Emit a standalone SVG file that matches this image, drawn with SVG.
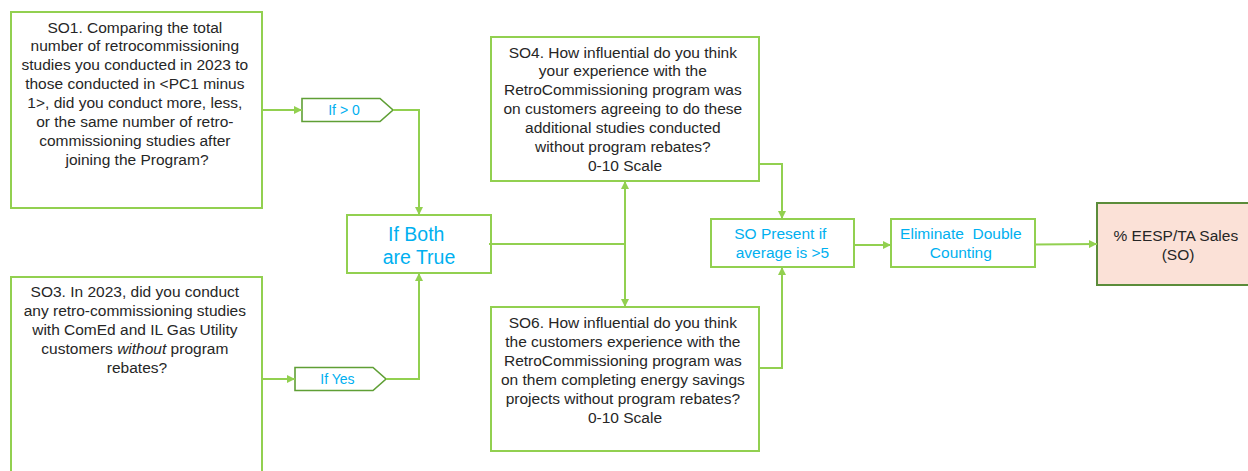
<svg xmlns="http://www.w3.org/2000/svg" width="1248" height="471" viewBox="0 0 1248 471">
<defs>
<marker id="ah" viewBox="0 0 10 10" refX="10" refY="5" markerWidth="9" markerHeight="8" markerUnits="userSpaceOnUse" orient="auto">
<path d="M0,0 L10,5 L0,10 Z" fill="#92D050"/>
</marker>
</defs>
<style>
.box{fill:#FFFFFF;stroke:#92D050;stroke-width:2}
.tag{fill:#FFFFFF;stroke:#5F9F35;stroke-width:1.6}
.res{fill:#FBE1D7;stroke:#5B8C3A;stroke-width:2}
.q{font-family:"Liberation Sans",Arial,sans-serif;font-size:15.5px;fill:#262626;text-anchor:middle}
.c{font-family:"Liberation Sans",Arial,sans-serif;fill:#00B0F0;text-anchor:middle}
.ln{fill:none;stroke:#92D050;stroke-width:2}
</style>
<rect width="1248" height="471" fill="#FFFFFF"/>

<g id="so1">
<rect class="box" x="11" y="12" width="251" height="196"/>
<text class="q">
<tspan x="137" y="32.5">SO1. Comparing the total</tspan>
<tspan x="137" y="51.4">number of retrocommissioning</tspan>
<tspan x="137" y="70.3">studies you conducted in 2023 to</tspan>
<tspan x="137" y="89.2">those conducted in &lt;PC1 minus</tspan>
<tspan x="137" y="108.1">1&gt;, did you conduct more, less,</tspan>
<tspan x="137" y="127">or the same number of retro-</tspan>
<tspan x="137" y="145.9">commissioning studies after</tspan>
<tspan x="137" y="164.8">joining the Program?</tspan>
</text>
</g>

<g id="so3">
<rect class="box" x="11" y="277" width="251" height="200"/>
<text class="q">
<tspan x="137" y="296.5">SO3. In 2023, did you conduct</tspan>
<tspan x="137" y="315.5">any retro-commissioning studies</tspan>
<tspan x="137" y="334.5">with ComEd and IL Gas Utility</tspan>
<tspan x="137" y="353.5">customers <tspan font-style="italic">without</tspan> program</tspan>
<tspan x="137" y="372.5">rebates?</tspan>
</text>
</g>

<g id="ifgt0">
<polygon class="tag" points="302,98.5 380,98.5 393,110 380,121.5 302,121.5"/>
<text class="c" x="344" y="115" font-size="14">If &gt; 0</text>
</g>

<g id="ifyes">
<polygon class="tag" points="295,367.5 373,367.5 386,379 373,390.5 295,390.5"/>
<text class="c" x="337.5" y="384" font-size="14">If Yes</text>
</g>

<g id="ifboth">
<rect class="box" x="347" y="215" width="144" height="58"/>
<text class="c" font-size="19.5">
<tspan x="419" y="240.5">If Both</tspan>
<tspan x="419" y="264">are True</tspan>
</text>
</g>

<g id="so4">
<rect class="box" x="491" y="37" width="268" height="144"/>
<text class="q">
<tspan x="625" y="57.5">SO4. How influential do you think</tspan>
<tspan x="625" y="76.4">your experience with the</tspan>
<tspan x="625" y="95.3">RetroCommissioning program was</tspan>
<tspan x="625" y="114.2">on customers agreeing to do these</tspan>
<tspan x="625" y="133.1">additional studies conducted</tspan>
<tspan x="625" y="152">without program rebates?</tspan>
<tspan x="625" y="170.9">0-10 Scale</tspan>
</text>
</g>

<g id="so6">
<rect class="box" x="491" y="307" width="268" height="144"/>
<text class="q">
<tspan x="625" y="328.3">SO6. How influential do you think</tspan>
<tspan x="625" y="347.3">the customers experience with the</tspan>
<tspan x="625" y="366.3">RetroCommissioning program was</tspan>
<tspan x="625" y="385.3">on them completing energy savings</tspan>
<tspan x="625" y="404.3">projects without program rebates?</tspan>
<tspan x="625" y="423.3">0-10 Scale</tspan>
</text>
</g>

<g id="sopresent">
<rect class="box" x="711" y="219" width="143" height="48"/>
<text class="c" font-size="15.5">
<tspan x="782.5" y="239.3">SO Present if</tspan>
<tspan x="782.5" y="258.3">average is &gt;5</tspan>
</text>
</g>

<g id="eliminate">
<rect class="box" x="891" y="219" width="144" height="48"/>
<text class="c" font-size="15.5" xml:space="preserve">
<tspan x="963" y="239.3">Eliminate  Double</tspan>
<tspan x="963" y="258.3">Counting</tspan>
</text>
</g>

<g id="result">
<rect class="res" x="1097" y="203" width="165" height="82"/>
<text class="q" font-size="14.5">
<tspan x="1178" y="240.7">% EESP/TA Sales</tspan>
<tspan x="1178" y="259.5">(SO)</tspan>
</text>
</g>

<g id="connectors">
<path class="ln" d="M262,110 L302,110" marker-end="url(#ah)"/>
<path class="ln" d="M393,110 L419,110 L419,215" marker-end="url(#ah)"/>
<path class="ln" d="M262,379 L295,379" marker-end="url(#ah)"/>
<path class="ln" d="M386,379 L419,379 L419,273" marker-end="url(#ah)"/>
<path class="ln" d="M489,244 L625,244" stroke-width="3"/>
<path class="ln" d="M625,244 L625,181" marker-end="url(#ah)"/>
<path class="ln" d="M625,244 L625,307" marker-end="url(#ah)"/>
<path class="ln" d="M759,164 L782,164 L782,219" marker-end="url(#ah)"/>
<path class="ln" d="M759,368 L782,368 L782,267" marker-end="url(#ah)"/>
<path class="ln" d="M854,245 L891,245" marker-end="url(#ah)"/>
<path class="ln" d="M1035,244.5 L1097,244" marker-end="url(#ah)"/>
</g>
</svg>
